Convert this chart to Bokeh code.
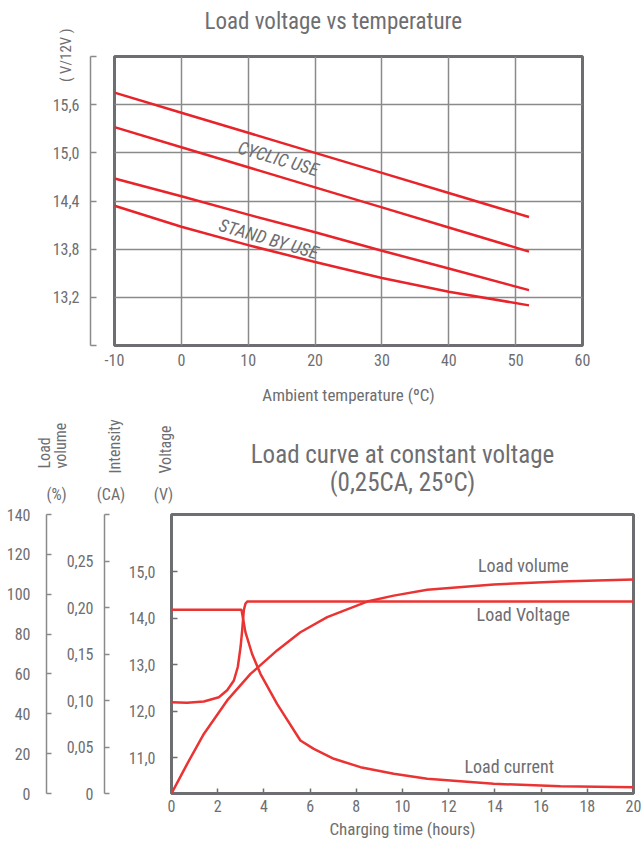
from bokeh.plotting import figure
from bokeh.models import Range1d, LinearAxis, FixedTicker, Label, Title
from bokeh.embed import file_html
from bokeh.resources import INLINE

# ---------------- data: top chart ----------------
temps = [-10, 0, 10, 20, 30, 40, 52]
cyclic_upper = [15.75, 15.50, 15.25, 15.00, 14.75, 14.50, 14.20]
cyclic_lower = [15.32, 15.07, 14.82, 14.57, 14.32, 14.07, 13.77]
standby_upper = [14.68, 14.46, 14.23, 14.01, 13.78, 13.56, 13.29]
standby_lower = [14.34, 14.08, 13.85, 13.64, 13.44, 13.27, 13.10]
temp_ticks = [-10, 0, 10, 20, 30, 40, 50, 60]
temp_labels = ["-10", "0", "10", "20", "30", "40", "50", "60"]
top_volt_ticks = [12.6, 13.2, 13.8, 14.4, 15.0, 15.6, 16.2]
top_volt_labels = ["", "13,2", "13,8", "14,4", "15,0", "15,6", ""]

# ---------------- data: bottom chart ----------------
hours_voltage = [0, 0.68, 1.40, 2.05, 2.41, 2.70, 2.87, 2.99, 3.06, 3.13, 3.20, 3.28, 20]
load_voltage = [12.19, 12.18, 12.21, 12.30, 12.45, 12.66, 12.95, 13.38, 13.74, 14.17, 14.31, 14.36, 14.36]
hours_current = [0, 3.03, 3.20, 3.49, 3.85, 4.57, 5.58, 6.16, 7.03, 8.18, 9.62, 11.07, 13.95, 16.84, 20]
load_current = [0.1975, 0.1975, 0.1735, 0.150, 0.1287, 0.0964, 0.057, 0.048, 0.0373, 0.0283,
                0.0212, 0.0158, 0.0104, 0.0079, 0.0068]
hours_volume = [0, 0.68, 1.40, 2.41, 3.42, 4.57, 5.58, 6.74, 8.47, 9.62, 11.07, 13.95, 16.84, 20]
load_volume = [0, 14.9, 29.9, 46.7, 60.0, 71.8, 80.9, 88.5, 96.3, 99.3, 102.2, 104.9, 106.4, 107.4]
hour_ticks = [0, 2, 4, 6, 8, 10, 12, 14, 16, 18, 20]
volt_ticks = [11.0, 12.0, 13.0, 14.0, 15.0]
volt_labels = ["11,0", "12,0", "13,0", "14,0", "15,0"]
ca_ticks = [0.0, 0.05, 0.1, 0.15, 0.2, 0.25, 0.3]
ca_labels = ["0", "0,05", "0,10", "0,15", "0,20", "0,25", ""]
vol_ticks = [0.0, 20.0, 40.0, 60.0, 80.0, 100.0, 120.0, 140.0]
vol_labels = ["0", "20", "40", "60", "80", "100", "120", "140"]

FONT = "Roboto Condensed, Liberation Sans Narrow, Roboto"
GRAY = "#6d6e71"
AXGRAY = "#8a8a8a"
RED = "#e8232a"
RED2 = "#ea3433"


def label(p, x, y, text, size, angle=0.0, align="center", baseline="middle", style="normal"):
    p.add_layout(Label(x=x, y=y, text=text, text_font=FONT, text_font_size=f"{size}px",
                       text_color=GRAY, angle=angle, text_align=align,
                       text_baseline=baseline, text_font_style=style))


def style_axis(ax, size=16, label_size=17):
    ax.major_label_text_font = FONT
    ax.major_label_text_font_size = f"{size}px"
    ax.major_label_text_color = GRAY
    ax.axis_label_text_font = FONT
    ax.axis_label_text_font_size = f"{label_size}px"
    ax.axis_label_text_color = GRAY
    ax.axis_label_text_font_style = "normal"
    ax.minor_tick_in = 0
    ax.minor_tick_out = 0


def spacer(ax, width, at):
    # an empty axis used only to keep a gap between the frame and the next element
    ax.ticker = FixedTicker(ticks=[at])
    ax.major_label_overrides = {at: ""}
    ax.major_label_text_color = None
    ax.axis_line_color = None
    ax.major_tick_line_color = "white"
    ax.major_tick_line_alpha = 0.001
    ax.major_tick_out = width
    ax.major_tick_in = 0
    ax.major_label_standoff = 0
    ax.minor_tick_in = 0
    ax.minor_tick_out = 0


def bracket(ax, tick_in, standoff):
    style_axis(ax)
    ax.axis_line_color = AXGRAY
    ax.axis_line_width = 1.5
    ax.major_tick_line_color = AXGRAY
    ax.major_tick_line_width = 1.5
    ax.major_tick_in = tick_in
    ax.major_tick_out = 0
    ax.major_label_standoff = standoff


# ================= top chart =================
p1 = figure(width=641, height=412, x_range=Range1d(-10, 60), y_range=Range1d(12.6, 16.2),
            output_backend="svg", toolbar_location=None,
            min_border_left=114, min_border_right=59, min_border_top=55, min_border_bottom=67)
p1.title.text = "Load voltage vs temperature"
p1.title.align = "left"
p1.title.offset = 90
p1.title.standoff = 10
p1.title.text_font = FONT
p1.title.text_font_size = "23px"
p1.title.text_font_style = "normal"
p1.title.text_color = GRAY
p1.outline_line_color = GRAY
p1.outline_line_width = 3
p1.grid.grid_line_color = AXGRAY
p1.grid.grid_line_width = 1.5
p1.xgrid.ticker = FixedTicker(ticks=temp_ticks)
p1.ygrid.ticker = FixedTicker(ticks=top_volt_ticks)

xa = p1.below[0]
style_axis(xa)
xa.ticker = FixedTicker(ticks=temp_ticks)
xa.major_label_overrides = dict(zip(temp_ticks, temp_labels))
xa.axis_line_color = None
xa.major_tick_line_color = None
xa.major_tick_in = 0
xa.major_tick_out = 0
xa.major_label_standoff = 8
xa.axis_label = "Ambient temperature (ºC)"
xa.axis_label_standoff = 16

top_gap = LinearAxis()
spacer(top_gap, 17, 25)
p1.add_layout(top_gap, "above")

spacer(p1.left[0], 24, 14.1)
ya = LinearAxis(ticker=FixedTicker(ticks=top_volt_ticks),
                major_label_overrides=dict(zip(top_volt_ticks, top_volt_labels)))
bracket(ya, 6, 11)
p1.add_layout(ya, "left")
p1.add_layout(Title(text="( V/12V )", align="right", offset=-28, standoff=-50,
                    text_font=FONT, text_font_size="15px", text_font_style="normal",
                    text_color=GRAY), "left")

for ys in (cyclic_upper, cyclic_lower, standby_upper, standby_lower):
    p1.line(temps, ys, line_color=RED, line_width=2.5)

label(p1, 14.5, 14.93, "CYCLIC USE", 18, angle=-0.285, style="italic")
label(p1, 13.07, 13.93, "STAND BY USE", 18, angle=-0.285, style="italic")

# ================= header of the bottom chart =================
hdr = figure(width=641, height=93, x_range=Range1d(0, 641), y_range=Range1d(0, 93),
             output_backend="svg", toolbar_location=None,
             x_axis_location=None, y_axis_location=None,
             min_border_left=0, min_border_right=0, min_border_top=0, min_border_bottom=0)
hdr.outline_line_color = None
hdr.grid.visible = False
label(hdr, 402, 51, "Load curve at constant voltage", 25)
label(hdr, 402, 23, "(0,25CA, 25ºC)", 25)
label(hdr, 44, 37, "Load", 16, angle=1.5708, align="left")
label(hdr, 60.5, 37, "volume", 16, angle=1.5708, align="left")
label(hdr, 56, 11, "(%)", 16)
label(hdr, 114.5, 32, "Intensity", 16, angle=1.5708, align="left")
label(hdr, 110.5, 11, "(CA)", 16)
label(hdr, 165, 32, "Voltage", 16, angle=1.5708, align="left")
label(hdr, 163, 11, "(V)", 16)

# ================= bottom chart =================
p2 = figure(width=641, height=337, x_range=Range1d(0, 20), y_range=Range1d(10.23, 16.23),
            output_backend="svg", toolbar_location=None,
            min_border_left=171, min_border_right=8, min_border_top=9, min_border_bottom=49)
p2.extra_y_ranges = {"ca": Range1d(0, 0.30), "vol": Range1d(0, 140)}
p2.outline_line_color = GRAY
p2.outline_line_width = 3
p2.grid.visible = False

xb = p2.below[0]
style_axis(xb)
xb.ticker = FixedTicker(ticks=hour_ticks)
xb.axis_line_color = None
xb.major_tick_line_color = GRAY
xb.major_tick_line_width = 1.5
xb.major_tick_in = 5
xb.major_tick_out = 0
xb.major_label_standoff = 6
xb.axis_label = "Charging time (hours)"
xb.axis_label_standoff = 4

yv = p2.left[0]
style_axis(yv)
yv.ticker = FixedTicker(ticks=volt_ticks)
yv.major_label_overrides = dict(zip(volt_ticks, volt_labels))
yv.axis_line_color = None
yv.major_tick_line_color = GRAY
yv.major_tick_line_width = 1.5
yv.major_tick_in = 6
yv.major_tick_out = 0
yv.major_label_standoff = 16

sp1 = LinearAxis(y_range_name="ca")
spacer(sp1, 21, 0.125)
p2.add_layout(sp1, "left")

yc = LinearAxis(y_range_name="ca", ticker=FixedTicker(ticks=ca_ticks),
                major_label_overrides=dict(zip(ca_ticks, ca_labels)))
bracket(yc, 5, 11)
p2.add_layout(yc, "left")

sp2 = LinearAxis(y_range_name="vol")
spacer(sp2, 17, 70.0)
p2.add_layout(sp2, "left")

yl = LinearAxis(y_range_name="vol", ticker=FixedTicker(ticks=vol_ticks),
                major_label_overrides=dict(zip(vol_ticks, vol_labels)))
bracket(yl, 5, 16)
p2.add_layout(yl, "left")

p2.line(hours_voltage, load_voltage, line_color=RED2, line_width=2.5)
p2.line(hours_current, load_current, line_color=RED2, line_width=2.5, y_range_name="ca")
p2.line(hours_volume, load_volume, line_color=RED2, line_width=2.5, y_range_name="vol")

label(p2, 15.23, 15.13, "Load volume", 18)
label(p2, 15.23, 14.08, "Load Voltage", 18)
label(p2, 14.62, 10.81, "Load current", 18)

open("out.html", "w").write(file_html([p1, hdr, p2], INLINE))
